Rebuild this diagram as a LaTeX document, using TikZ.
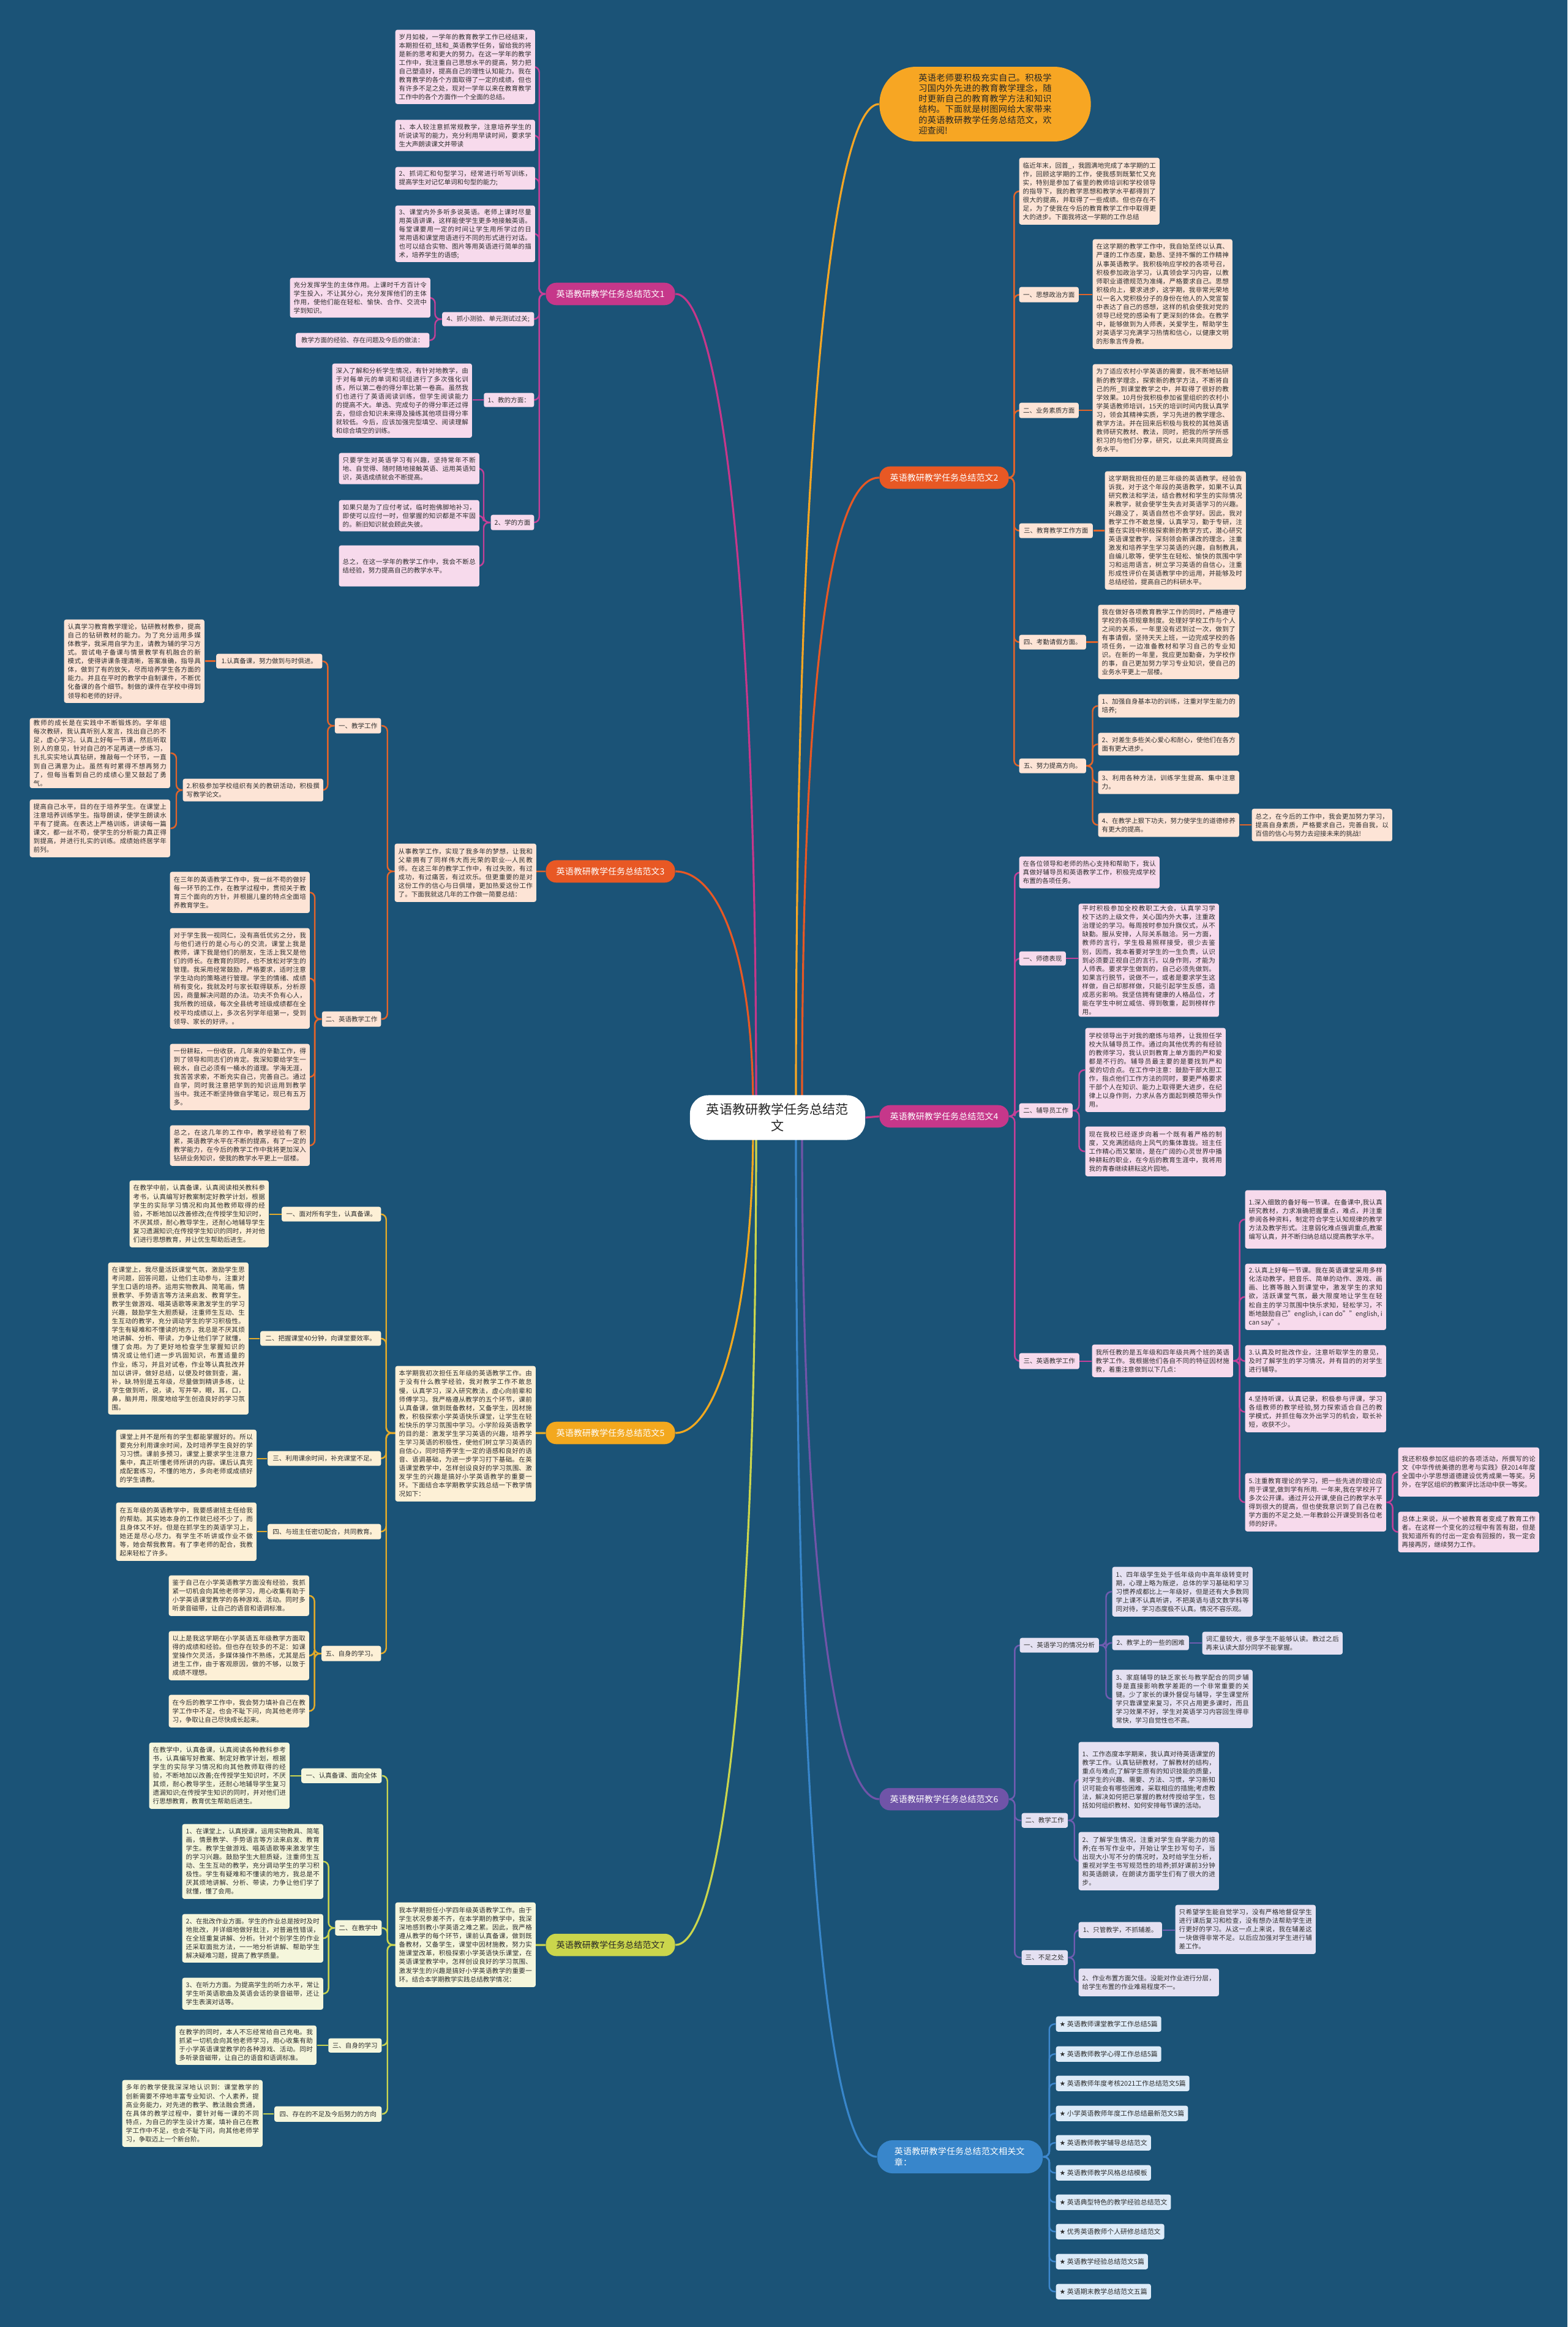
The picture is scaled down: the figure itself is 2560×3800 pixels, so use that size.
\documentclass[tikz,border=0pt]{standalone}
\usepackage{fontspec}
\setmainfont{Noto Sans CJK SC}
\newfontfamily\symfont{DejaVu Sans}
\XeTeXlinebreaklocale "zh"
\XeTeXlinebreakskip=0pt plus 0.6pt
\usetikzlibrary{backgrounds}

\definecolor{mapbg}{RGB}{27,83,119}
\definecolor{mappink}{RGB}{198,55,138}
\definecolor{maporange}{RGB}{232,88,36}
\definecolor{mapgold}{RGB}{243,168,30}
\definecolor{mappurple}{RGB}{112,84,168}
\definecolor{mapgreen}{RGB}{203,214,76}
\definecolor{mapblue}{RGB}{56,134,203}
\definecolor{introorange}{RGB}{247,166,35}
\definecolor{leafpink}{RGB}{247,218,236}
\definecolor{leafpeach}{RGB}{253,228,214}
\definecolor{leafcream}{RGB}{253,240,214}
\definecolor{leaflilac}{RGB}{229,225,242}
\definecolor{leafyellow}{RGB}{245,246,220}
\definecolor{leafblue}{RGB}{221,235,248}
\definecolor{linkpink}{RGB}{196,64,152}
\definecolor{linkorange}{RGB}{226,100,42}
\definecolor{linkgold}{RGB}{226,170,42}
\definecolor{linkpurple}{RGB}{112,92,176}
\definecolor{linkgreen}{RGB}{200,212,80}
\definecolor{linkblue}{RGB}{62,136,206}

\newcommand\rootfont{\fontsize{6pt}{7.6pt}\selectfont}
\newcommand\pillfont{\fontsize{4pt}{5pt}\selectfont}
\newcommand\introfont{\fontsize{4.05pt}{4.85pt}\selectfont}
\newcommand\leaffont{\fontsize{3pt}{4pt}\selectfont}
\newcommand\relfont{\fontsize{3.1pt}{4pt}\selectfont}

\tikzset{
  map root/.style={fill=white,rounded corners=0.3cm,minimum width=2.86cm,minimum height=0.73cm,align=center,font=\rootfont,text=black!85},
  map pill/.style={rounded corners=0.17cm,minimum width=2.11cm,minimum height=0.34cm,font=\pillfont,text=white},
  map leaf/.style={anchor=north west,rounded corners=0.9pt,inner xsep=0.06cm,inner ysep=0.03cm,align=justify,font=\leaffont,text=black!82},
  map tag/.style={anchor=north west,rounded corners=0.9pt,inner xsep=0.06cm,inner ysep=0.03cm,font=\leaffont,text=black!82},
  map link/.style={line width=0.7pt,rounded corners=2.5pt},
  map curve/.style={line width=0.9pt}
}

\begin{document}
\begin{tikzpicture}[x=0.01cm,y=-0.01cm]
  \useasboundingbox (0,0) rectangle (2560,3800);

  % centre and main branches
  \node[map root] (root) at (1270,1825) {英语教研教学任务总结范\\文};
  \node[fill=introorange,rounded corners=0.6cm,minimum height=1.21cm,inner xsep=0.64cm,text width=2.17cm,align=justify,font=\introfont,text=black!85] (intro) at (1609,170) {英语老师要积极充实自己。积极学习国内外先进的教育教学理念，随时更新自己的教育教学方法和知识结构。下面就是树图网给大家带来的英语教研教学任务总结范文，欢迎查阅!};
  \node[map pill,fill=mappink] (b1) at (997,480) {英语教研教学任务总结范文1};
  \node[map pill,fill=maporange] (b2) at (1542,780) {英语教研教学任务总结范文2};
  \node[map pill,fill=maporange] (b3) at (997,1423) {英语教研教学任务总结范文3};
  \node[map pill,fill=mappink] (b4) at (1542,1823) {英语教研教学任务总结范文4};
  \node[map pill,fill=mapgold] (b5) at (997,2340) {英语教研教学任务总结范文5};
  \node[map pill,fill=mappurple] (b6) at (1542,2938) {英语教研教学任务总结范文6};
  \node[map pill,fill=mapgreen,text=black!85] (b7) at (997,3176) {英语教研教学任务总结范文7};
  \node[fill=mapblue,rounded corners=0.25cm,minimum height=0.5cm,inner xsep=0.28cm,text width=2.14cm,align=left,font=\pillfont,text=white] (rel) at (1568,3522) {英语教研教学任务总结范文相关文章：};

  % branch 1
  \node[map leaf,fill=leafpink,text width=2.16cm,minimum height=1.21cm] (b1a) at (645,48) {岁月如梭，一学年的教育教学工作已经结束，本期担任初\_班和\_英语教学任务，留给我的将是新的思考和更大的努力。在这一学年的教学工作中，我注重自己思想水平的提高，努力把自己塑造好，提高自己的理性认知能力。我在教育教学的各个方面取得了一定的成绩，但也有许多不足之处，现对一学年以来在教育教学工作中的各个方面作一个全面的总结。};
  \node[map leaf,fill=leafpink,text width=2.16cm,minimum height=0.51cm] (b1b) at (645,195) {1、本人较注意抓常规教学，注意培养学生的听说读写的能力，充分利用早读时间，要求学生大声朗读课文并带读};
  \node[map leaf,fill=leafpink,text width=2.16cm,minimum height=0.37cm] (b1c) at (645,272) {2、抓词汇和句型学习，经常进行听写训练，提高学生对记忆单词和句型的能力;};
  \node[map leaf,fill=leafpink,text width=2.16cm,minimum height=0.92cm] (b1d) at (645,335) {3、课堂内外多听多说英语。老师上课时尽量用英语讲课，这样能使学生更多地接触英语。每堂课要用一定的时间让学生用所学过的日常用语和课堂用语进行不同的形式进行对话。也可以结合实物、图片等用英语进行简单的描术，培养学生的语感;};
  \node[map tag,fill=leafpink,anchor=north east,minimum width=1.50cm,minimum height=0.23cm] (b1e) at (873,509) {4、抓小测验、单元测试过关;};
  \node[map leaf,fill=leafpink,text width=2.17cm,minimum height=0.65cm] (b1e1) at (473,453) {充分发挥学生的主体作用。上课时千方百计令学生投入，不让其分心，充分发挥他们的主体作用，使他们能在轻松、愉快、合作、交流中学到知识。};
  \node[map tag,fill=leafpink,anchor=north east,minimum width=2.18cm,minimum height=0.24cm] (b1e2) at (702,543) {教学方面的经验、存在问题及今后的做法：};
  \node[map tag,fill=leafpink,anchor=north east,minimum width=0.82cm,minimum height=0.23cm] (b1f) at (873,641) {1、教的方面：};
  \node[map leaf,fill=leafpink,text width=2.16cm,minimum height=1.21cm] (b1f1) at (542,593) {深入了解和分析学生情况，有针对地教学，由于对每单元的单词和词组进行了多次强化训练，所以第二卷的得分率比第一卷高。虽然我们也进行了英语阅读训练，但学生阅读能力的提高不大。单选、完成句子的得分率还过得去，但综合知识未来得及操练其他项目得分率就较低。今后，应该加强完型填空、阅读理解和综合填空的训练。};
  \node[map tag,fill=leafpink,anchor=north east,minimum width=0.70cm,minimum height=0.25cm] (b1g) at (873,840) {2、学的方面};
  \node[map leaf,fill=leafpink,text width=2.17cm,minimum height=0.51cm] (b1g1) at (553,739) {只要学生对英语学习有兴趣，坚持常年不断地、自觉得、随时随地接触英语、运用英语知识，英语成绩就会不断提高。};
  \node[map leaf,fill=leafpink,text width=2.17cm,minimum height=0.51cm] (b1g2) at (553,816) {如果只是为了应付考试，临时抱佛脚地补习，即使可以应付一时，但掌握的知识都是不牢固的。新旧知识就会顾此失彼。};
  \node[map leaf,fill=leafpink,text width=2.17cm,minimum height=0.67cm] (b1g3) at (553,890) {总之，在这一学年的教学工作中，我会不断总结经验，努力提高自己的教学水平。};

  % branch 2
  \node[map leaf,fill=leafpeach,text width=2.17cm,minimum height=1.09cm] (b2a) at (1664,257) {临近年末，回首\_，我圆满地完成了本学期的工作，回顾这学期的工作，使我感到既繁忙又充实，特别是参加了省里的教师培训和学校领导的指导下，我的教学思想和教学水平都得到了很大的提高，并取得了一些成绩。但也存在不足，为了使我在今后的教育教学工作中取得更大的进步。下面我将这一学期的工作总结};
  \node[map tag,fill=leafpeach,minimum width=0.97cm,minimum height=0.25cm] (b2b) at (1664,468) {一、思想政治方面};
  \node[map leaf,fill=leafpeach,text width=2.16cm,minimum height=1.79cm] (b2b1) at (1784,390) {在这学期的教学工作中，我自始至终以认真、严谨的工作态度，勤恳、坚持不懈的工作精神从事英语教学。我积极响应学校的各项号召，积极参加政治学习，认真领会学习内容，以教师职业道德规范为准绳，严格要求自己。思想积极向上，要求进步，这学期，我非常光荣地以一名入党积极分子的身份在他人的入党宣誓中表达了自己的感想，这样的机会使我对党的领导已经党的感染有了更深刻的体会。在教学中，能够做到为人师表，关爱学生，帮助学生对英语学习充满学习热情和信心，以健康文明的形象言传身教。};
  \node[map tag,fill=leafpeach,minimum width=0.97cm,minimum height=0.25cm] (b2c) at (1664,657) {二、业务素质方面};
  \node[map leaf,fill=leafpeach,text width=2.16cm,minimum height=1.51cm] (b2c1) at (1784,594) {为了适应农村小学英语的需要，我不断地钻研新的教学理念，探索新的教学方法，不断将自己的所\_到课堂教学之中，并取得了很好的教学效果。10月份我积极参加省里组织的农村小学英语教师培训，15天的培训时间内我认真学习，领会其精神实质，学习先进的教学理念、教学方法。并在回来后积极与我校的其他英语教师研究教材、教法，同时，把我的所学所感积习的与他们分享，研究，以此来共同提高业务水平。};
  \node[map tag,fill=leafpeach,minimum width=1.20cm,minimum height=0.24cm] (b2d) at (1664,854) {三、教育教学工作方面};
  \node[map leaf,fill=leafpeach,text width=2.18cm,minimum height=1.93cm] (b2d1) at (1804,769) {这学期我担任的是三年级的英语教学。经验告诉我，对于这个年段的英语教学，如果不认真研究教法和学法，结合教材和学生的实际情况来教学，就会使学生失去对英语学习的兴趣。兴趣没了，英语自然也不会学好。因此，我对教学工作不敢怠慢，认真学习，勤于专研，注重在实践中积极探索新的教学方式，潜心研究英语课堂教学，深刻领会新课改的理念，注重激发和培养学生学习英语的兴趣，自制教具，自编儿歌等，使学生在轻松、愉快的氛围中学习和运用语言，树立学习英语的自信心，注重形成性评价在英语教学中的运用，并能够及时总结经验，提高自己的科研水平。};
  \node[map tag,fill=leafpeach,minimum width=1.09cm,minimum height=0.24cm] (b2e) at (1664,1036) {四、考勤请假方面。};
  \node[map leaf,fill=leafpeach,text width=2.18cm,minimum height=1.21cm] (b2e1) at (1793,987) {我在做好各项教育教学工作的同时，严格遵守学校的各项规章制度。处理好学校工作与个人之间的关系，一年里没有迟到过一次，做到了有事请假，坚持天天上班，一边完成学校的各项任务，一边准备教材和学习自己的专业知识。在新的一年里，我应更加勤奋，为学校作的事，自己更加努力学习专业知识，使自己的业务水平更上一层楼。};
  \node[map tag,fill=leafpeach,minimum width=1.09cm,minimum height=0.24cm] (b2f) at (1664,1238) {五、努力提高方向。};
  \node[map leaf,fill=leafpeach,text width=2.18cm,minimum height=0.38cm] (b2f1) at (1793,1133) {1、加强自身基本功的训练，注重对学生能力的培养;};
  \node[map leaf,fill=leafpeach,text width=2.18cm,minimum height=0.37cm] (b2f2) at (1793,1196) {2、对差生多些关心爱心和耐心，使他们在各方面有更大进步。};
  \node[map leaf,fill=leafpeach,text width=2.18cm,minimum height=0.38cm] (b2f3) at (1793,1258) {3、利用各种方法，训练学生提高、集中注意力。};
  \node[map leaf,fill=leafpeach,text width=2.18cm,minimum height=0.39cm] (b2f4) at (1793,1327) {4、在教学上狠下功夫，努力使学生的道德修养有更大的提高。};
  \node[map leaf,fill=leafpeach,text width=2.17cm,minimum height=0.53cm] (b2f4a) at (2044,1320) {总之，在今后的工作中，我会更加努力学习，提高自身素质，严格要求自己，完善自我，以百倍的信心与努力去迎接未来的挑战!};

  % branch 3
  \node[map leaf,fill=leafpeach,text width=2.19cm,minimum height=0.95cm] (b3a) at (644,1377) {从事教学工作，实现了我多年的梦想，让我和父辈拥有了同样伟大而光荣的职业-{}-{}-人民教师。在这三年的教学工作中，有过失败，有过成功，有过痛苦，有过欢乐。但更重要的是对这份工作的信心与日俱增，更加热爱这份工作了。下面我就这几年的工作做一简要总结：};
  \node[map tag,fill=leafpeach,anchor=north east,minimum width=0.75cm,minimum height=0.25cm] (b3b) at (623,1172) {一、教学工作};
  \node[map tag,fill=leafpeach,anchor=north east,minimum width=1.73cm,minimum height=0.24cm] (b3b1) at (527,1067) {1.认真备课，努力做到与时俱进。};
  \node[map leaf,fill=leafpeach,text width=2.17cm,minimum height=1.36cm] (b3b1a) at (104,1011) {认真学习教育教学理论，钻研教材教参，提高自己的钻研教材的能力。为了充分运用多媒体教学，我采用自学为主，请教为辅的学习方式。尝试电子备课与情景教学有机融合的新模式，使得讲课条理清晰，答案准确，指导具体，做到了有的放矢，尽而培养学生各方面的能力。并且在平时的教学中自制课件，不断优化备课的各个细节。制做的课件在学校中得到领导和老师的好评。};
  \node[map leaf,fill=leafpeach,text width=2.17cm,minimum height=0.37cm] (b3b2) at (298,1271) {2.积极参加学校组织有关的教研活动，积极撰写教学论文。};
  \node[map leaf,fill=leafpeach,text width=2.17cm,minimum height=1.09cm] (b3b2a) at (48,1172) {教师的成长是在实践中不断锻炼的。学年组每次教研，我认真听别人发言，找出自己的不足，虚心学习。认真上好每一节课，然后听取别人的意见，针对自己的不足再进一步练习，扎扎实实地认真钻研，推敲每一个环节，一直到自己满意为止。虽然有时累得不想再努力了，但每当看到自己的成绩心里又鼓起了勇气。};
  \node[map leaf,fill=leafpeach,text width=2.17cm,minimum height=0.94cm] (b3b2b) at (48,1305) {提高自己水平，目的在于培养学生。在课堂上注意培养训练学生。指导朗读，使学生朗读水平有了提高。在表达上严格训练，讲读每一篇课文，都一丝不苟，使学生的分析能力真正得到提高，并进行扎实的训练。成绩始终居学年前列。};
  \node[map tag,fill=leafpeach,anchor=north east,minimum width=0.96cm,minimum height=0.25cm] (b3c) at (623,1651) {二、英语教学工作};
  \node[map leaf,fill=leafpeach,text width=2.16cm,minimum height=0.67cm] (b3c1) at (277,1423) {在三年的英语教学工作中，我一丝不苟的做好每一环节的工作，在教学过程中，贯彻关于教育三个面向的方针，并根据儿童的特点全面培养教育学生。};
  \node[map leaf,fill=leafpeach,text width=2.16cm,minimum height=1.64cm] (b3c2) at (277,1515) {对于学生我一视同仁，没有高低优劣之分，我与他们进行的是心与心的交流，课堂上我是教师，课下我是他们的朋友，生活上我又是他们的师长。在教育的同时，也不放松对学生的管理。我采用经常鼓励，严格要求，适时注意学生动向的策略进行管理。学生的情绪、成绩稍有变化，我就及时与家长取得联系，分析原因，商量解决问题的办法。功夫不负有心人，我所教的班级，每次全县统考班级成绩都在全校平均成绩以上，多次名列学年组第一，受到领导、家长的好评。。};
  \node[map leaf,fill=leafpeach,text width=2.16cm,minimum height=1.08cm] (b3c3) at (277,1704) {一份耕耘，一份收获，几年来的辛勤工作，得到了领导和同志们的肯定。我深知要给学生一碗水，自己必须有一桶水的道理。学海无涯，我苦苦求索，不断充实自己，完善自己。通过自学，同时我注意把学到的知识运用到教学当中。我还不断坚持做自学笔记，现已有五万多。};
  \node[map leaf,fill=leafpeach,text width=2.16cm,minimum height=0.66cm] (b3c4) at (277,1837) {总之，在这几年的工作中，教学经验有了积累，英语教学水平在不断的提高，有了一定的教学能力，在今后的教学工作中我将更加深入钻研业务知识，使我的教学水平更上一层楼。};

  % branch 4
  \node[map leaf,fill=leafpink,text width=2.17cm,minimum height=0.52cm] (b4a) at (1664,1398) {在各位领导和老师的热心支持和帮助下，我认真做好辅导员和英语教学工作，积极完成学校布置的各项任务。};
  \node[map tag,fill=leafpink,minimum width=0.76cm,minimum height=0.23cm] (b4b) at (1664,1553) {一、师德表现};
  \node[map leaf,fill=leafpink,text width=2.17cm,minimum height=1.78cm] (b4b1) at (1761,1475) {平时积极参加全校教职工大会，认真学习学校下达的上级文件，关心国内外大事，注重政治理论的学习。每周按时参加升旗仪式，从不缺勤。服从安排，人际关系融洽。另一方面，教师的言行，学生极易照样接受，很少去鉴别，因而，我本着要对学生的一生负责，认识到必须要正视自己的言行。以身作则，才能为人师表。要求学生做到的，自己必须先做到。如果言行脱节，说做不一，或者是要求学生这样做，自己却那样做，只能引起学生反感，造成恶劣影响。我坚信拥有健康的人格品位，才能在学生中树立威信、得到敬重，起到榜样作用。};
  \node[map tag,fill=leafpink,minimum width=0.87cm,minimum height=0.24cm] (b4c) at (1664,1801) {二、辅导员工作};
  \node[map leaf,fill=leafpink,text width=2.17cm,minimum height=1.37cm] (b4c1) at (1772,1678) {学校领导出于对我的磨炼与培养，让我担任学校大队辅导员工作。通过向其他优秀的有经验的教师学习，我认识到教育上单方面的严和爱都是不行的。辅导员最主要的是要找到严和爱的切合点。在工作中注意：鼓励干部大胆工作，指点他们工作方法的同时，要更严格要求干部个人在知识、能力上取得更大进步，在纪律上以身作则，力求从各方面起到模范带头作用。};
  \node[map leaf,fill=leafpink,text width=2.17cm,minimum height=0.81cm] (b4c2) at (1772,1839) {现在我校已经逐步向着一个既有着严格的制度，又充满团结向上风气的集体靠拢。班主任工作精心而又繁琐，是在广阔的心灵世界中播种耕耘的职业，在今后的教育生涯中，我将用我的青春继续耕耘这片园地。};
  \node[map tag,fill=leafpink,minimum width=0.98cm,minimum height=0.26cm] (b4d) at (1664,2209) {三、英语教学工作};
  \node[map leaf,fill=leafpink,text width=2.18cm,minimum height=0.53cm] (b4d1) at (1783,2195) {我所任教的是五年级和四年级共两个班的英语教学工作。我根据他们各自不同的特征因材施教，着重注意做到以下几点：};
  \node[map leaf,fill=leafpink,text width=2.18cm,minimum height=0.95cm] (b4d1a) at (2033,1943) {1.深入细致的备好每一节课。在备课中,我认真研究教材，力求准确把握重点，难点，并注重参阅各种资料，制定符合学生认知规律的教学方法及教学形式。注意弱化难点强调重点,教案编写认真，并不断归纳总结以提高教学水平。};
  \node[map leaf,fill=leafpink,text width=2.18cm,minimum height=1.08cm] (b4d1b) at (2033,2063) {2.认真上好每一节课。我在英语课堂采用多样化活动教学，把音乐、简单的动作、游戏、画画、比赛等融入到课堂中，激发学生的求知欲，活跃课堂气氛，最大限度地让学生在轻松自主的学习氛围中快乐求知，轻松学习，不断地鼓励自己"english, i can do""english, i can say"。};
  \node[map leaf,fill=leafpink,text width=2.18cm,minimum height=0.52cm] (b4d1c) at (2033,2196) {3.认真及时批改作业，注意听取学生的意见，及时了解学生的学习情况，并有目的的对学生进行辅导。};
  \node[map leaf,fill=leafpink,text width=2.18cm,minimum height=0.66cm] (b4d1d) at (2033,2272) {4.坚持听课，认真记录，积极参与评课，学习各组教师的教学经验,努力探索适合自己的教学模式，并抓住每次外出学习的机会，取长补短，收获不少。};
  \node[map leaf,fill=leafpink,text width=2.18cm,minimum height=0.95cm] (b4d1e) at (2033,2405) {5.注重教育理论的学习，把一些先进的理论应用于课堂,做到学有所用. 一年来,我在学校开了多次公开课。通过开公开课,使自己的教学水平得到很大的提高，但也使我意识到了自己在教学方面的不足之处.一年教龄公开课受到各位老师的好评。};
  \node[map leaf,fill=leafpink,text width=2.18cm,minimum height=0.80cm] (b4d1e1) at (2283,2363) {我还积极参加区组织的各项活动，所撰写的论文《中华传统美德的思考与实践》获2014年度全国中小学思想道德建设优秀成果一等奖。另外，在学区组织的教案评比活动中获一等奖。};
  \node[map leaf,fill=leafpink,text width=2.18cm,minimum height=0.66cm] (b4d1e2) at (2283,2468) {总体上来说，从一个被教育者变成了教育工作者。在这样一个变化的过程中有苦有甜，但是我知道所有的付出一定会有回报的，我一定会再接再厉，继续努力工作。};

  % branch 5
  \node[map leaf,fill=leafcream,text width=2.17cm,minimum height=2.21cm] (b5a) at (645,2230) {本学期我初次担任五年级的英语教学工作。由于没有什么教学经验，我对教学工作不敢怠慢，认真学习，深入研究教法，虚心向前辈和师傅学习。我严格遵从教学的五个环节，课前认真备课，做到既备教材，又备学生，因材施教，积极探索小学英语快乐课堂，让学生在轻松快乐的学习氛围中学习。小学阶段英语教学的目的是：激发学生学习英语的兴趣，培养学生学习英语的积极性，使他们树立学习英语的自信心，同时培养学生一定的语感和良好的语音、语调基础，为进一步学习打下基础。在英语课堂教学中，怎样创设良好的学习氛围、激发学生的兴趣是搞好小学英语教学的重要一环。下面结合本学期教学实践总结一下教学情况如下：};
  \node[map tag,fill=leafcream,anchor=north east,minimum width=1.62cm,minimum height=0.24cm] (b5b) at (623,1970) {一、面对所有学生，认真备课。};
  \node[map leaf,fill=leafcream,text width=2.15cm,minimum height=1.09cm] (b5b1) at (211,1927) {在教学中前，认真备课，认真阅读相关教科参考书，认真编写好教案制定好教学计划，根据学生的实际学习情况和向其他教师取得的经验，不断地加以改善修改;在传授学生知识时，不厌其烦，耐心教导学生，还耐心地辅导学生复习遗漏知识;在传授学生知识的同时，并对他们进行思想教育，并让优生帮助后进生。};
  \node[map tag,fill=leafcream,anchor=north east,minimum width=1.97cm,minimum height=0.24cm] (b5c) at (623,2173) {二、把握课堂40分钟，向课堂要效率。};
  \node[map leaf,fill=leafcream,text width=2.17cm,minimum height=2.48cm] (b5c1) at (176,2061) {在课堂上，我尽量活跃课堂气氛，激励学生思考问题，回答问题，让他们主动参与，注重对学生口语的培养。运用实物教具、简笔画，情景教学、手势语言等方法来启发、教育学生。教学生做游戏、唱英语歌等来激发学生的学习兴趣，鼓励学生大胆质疑，注重师生互动、生生互动的教学，充分调动学生的学习积极性。学生有疑难和不懂读的地方，我总是不厌其烦地讲解、分析、带读，力争让他们学了就懂，懂了会用。为了更好地检查学生掌握知识的情况或让他们进一步巩固知识，布置适量的作业，练习，并且对试卷，作业等认真批改并加以讲评，做好总结，以便及时做到查，漏，补，缺.特别是五年级，尽量做到精讲多练，让学生做到听，说，读，写并举，眼，耳，口，鼻，脑并用，限度地给学生创造良好的学习氛围。};
  \node[map tag,fill=leafcream,anchor=north east,minimum width=1.85cm,minimum height=0.24cm] (b5d) at (623,2369) {三、利用课余时间，补充课堂不足。};
  \node[map leaf,fill=leafcream,text width=2.17cm,minimum height=0.94cm] (b5d1) at (189,2334) {课堂上并不是所有的学生都能掌握好的。所以要充分利用课余时间，及时培养学生良好的学习习惯。课前多预习，课堂上要求学生注意力集中，真正听懂老师所讲的内容。课后认真完成配套练习，不懂的地方，多向老师或成绩好的学生请教。};
  \node[map tag,fill=leafcream,anchor=north east,minimum width=1.85cm,minimum height=0.25cm] (b5e) at (623,2488) {四、与班主任密切配合，共同教育。};
  \node[map leaf,fill=leafcream,text width=2.17cm,minimum height=0.95cm] (b5e1) at (189,2453) {在五年级的英语教学中，我要感谢班主任给我的帮助。其实她本身的工作就已经不少了，而且身体又不好。但是在抓学生的英语学习上，她还是尽心尽力。有学生不听讲或作业不做等，她会帮我教育。有了李老师的配合，我教起来轻松了许多。};
  \node[map tag,fill=leafcream,anchor=north east,minimum width=0.97cm,minimum height=0.25cm] (b5f) at (623,2687) {五、自身的学习。};
  \node[map leaf,fill=leafcream,text width=2.17cm,minimum height=0.66cm] (b5f1) at (275,2572) {鉴于自己在小学英语教学方面没有经验，我抓紧一切机会向其他老师学习，用心收集有助于小学英语课堂教学的各种游戏、活动。同时多听录音磁带，让自己的语音和语调标准。};
  \node[map leaf,fill=leafcream,text width=2.17cm,minimum height=0.80cm] (b5f2) at (275,2663) {以上是我这学期在小学英语五年级教学方面取得的成绩和经验。但也存在较多的不足：如课堂操作欠灵活，多媒体操作不熟练，尤其是后进生工作，由于客观原因，做的不够，以致于成绩不理想。};
  \node[map leaf,fill=leafcream,text width=2.17cm,minimum height=0.53cm] (b5f3) at (275,2767) {在今后的教学工作中，我会努力填补自己在教学工作中不足，也会不耻下问，向其他老师学习，争取让自己尽快成长起来。};

  % branch 6
  \node[map tag,fill=leaflilac,minimum width=1.29cm,minimum height=0.24cm] (b6a) at (1665,2674) {一、英语学习的情况分析};
  \node[map leaf,fill=leaflilac,text width=2.17cm,minimum height=0.81cm] (b6a1) at (1816,2558) {1、四年级学生处于低年级向中高年级转变时期，心理上略为叛逆，总体的学习基础和学习习惯养成都比上一年级好，但是还有大多数同学上课不认真听讲，不把英语与语文数学科等同对待，学习态度极不认真。情况不容乐观。};
  \node[map tag,fill=leaflilac,minimum width=1.25cm,minimum height=0.24cm] (b6a2) at (1816,2670) {2、教学上的一些的困难};
  \node[map leaf,fill=leaflilac,text width=2.17cm,minimum height=0.37cm] (b6a2a) at (1963,2664) {词汇量较大，很多学生不能够认读。教过之后再来认读大部分同学不能掌握。};
  \node[map leaf,fill=leaflilac,text width=2.17cm,minimum height=0.95cm] (b6a3) at (1816,2726) {3、家庭辅导的缺乏家长与教学配合的同步辅导是直接影响教学差距的一个非常重要的关键。少了家长的课外督促与辅导，学生课堂所学只靠课堂来复习，不只占用更多课时，而且学习效果不好，学生对英语学习内容回生得非常快，学习自觉性也不高。};
  \node[map tag,fill=leaflilac,minimum width=0.72cm,minimum height=0.24cm] (b6b) at (1668,2960) {二、教学工作};
  \node[map leaf,fill=leaflilac,text width=2.17cm,minimum height=1.23cm] (b6b1) at (1761,2844) {1、工作态度本学期来，我认真对待英语课堂的教学工作。认真钻研教材，了解教材的结构，重点与难点;了解学生原有的知识技能的质量，对学生的兴趣、需要、方法、习惯，学习新知识可能会有哪些困难，采取相应的措施;考虑教法，解决如何把已掌握的教材传授给学生，包括如何组织教材、如何安排每节课的活动。};
  \node[map leaf,fill=leaflilac,text width=2.17cm,minimum height=0.95cm] (b6b2) at (1761,2991) {2、了解学生情况，注重对学生自学能力的培养;在书写作业中，开始让学生抄写句子，当出现大小写不分的情况时，及时给学生分析，重视对学生书写规范性的培养;抓好课前3分钟和英语朗读，在朗读方面学生们有了很大的进步。};
  \node[map tag,fill=leaflilac,minimum width=0.72cm,minimum height=0.24cm] (b6c) at (1668,3184) {三、不足之处};
  \node[map tag,fill=leaflilac,minimum width=1.36cm,minimum height=0.26cm] (b6c1) at (1761,3138) {1、只管教学，不抓辅差。};
  \node[map leaf,fill=leaflilac,text width=2.17cm,minimum height=0.80cm] (b6c1a) at (1919,3110) {只希望学生能自觉学习，没有严格地督促学生进行课后复习和检查，没有想办法帮助学生进行更好的学习。从这一点上来说，我在辅差这一块做得非常不足。以后应加强对学生进行辅差工作。};
  \node[map leaf,fill=leaflilac,text width=2.17cm,minimum height=0.45cm] (b6c2) at (1761,3214) {2、作业布置方面欠佳。没能对作业进行分层，给学生布置的作业难易程度不一。};

  % branch 7
  \node[map leaf,fill=leafyellow,text width=2.17cm,minimum height=1.38cm] (b7a) at (645,3106) {我本学期担任小学四年级英语教学工作。由于学生状况参差不齐，在本学期的教学中，我深深地感到教小学英语之难之累。因此，我严格遵从教学的每个环节，课前认真备课，做到既备教材，又备学生，课堂中因材施教，努力实施课堂改革，积极探索小学英语快乐课堂，在英语课堂教学中，怎样创设良好的学习氛围、激发学生的兴趣是搞好小学英语教学的重要一环。结合本学期教学实践总结教学情况：};
  \node[map tag,fill=leafyellow,anchor=north east,minimum width=1.31cm,minimum height=0.24cm] (b7b) at (624,2887) {一、认真备课、面向全体};
  \node[map leaf,fill=leafyellow,text width=2.17cm,minimum height=1.08cm] (b7b1) at (243,2845) {在教学中，认真备课，认真阅读各种教科参考书，认真编写好教案、制定好教学计划，根据学生的实际学习情况和向其他教师取得的经验，不断地加以改善;在传授学生知识时，不厌其烦，耐心教导学生，还耐心地辅导学生复习遗漏知识;在传授学生知识的同时，并对他们进行思想教育，教育优生帮助后进生。};
  \node[map tag,fill=leafyellow,anchor=north east,minimum width=0.76cm,minimum height=0.25cm] (b7c) at (624,3135) {二、在教学中};
  \node[map leaf,fill=leafyellow,text width=2.18cm,minimum height=1.22cm] (b7c1) at (297,2978) {1、在课堂上，认真授课，运用实物教具、简笔画，情景教学、手势语言等方法来启发、教育学生。教学生做游戏、唱英语歌等来激发学生的学习兴趣。鼓励学生大胆质疑，注重师生互动、生生互动的教学，充分调动学生的学习积极性。学生有疑难和不懂读的地方，我总是不厌其烦地讲解、分析、带读，力争让他们学了就懂，懂了会用。};
  \node[map leaf,fill=leafyellow,text width=2.18cm,minimum height=0.79cm] (b7c2) at (297,3125) {2、在批改作业方面。学生的作业总是按时及时地批改，并详细地做好批注，对普遍性错误，在全班重复讲解、分析。针对个别学生的作业还采取面批方法，一一地分析讲解、帮助学生解决疑难习题，提高了教学质量。};
  \node[map leaf,fill=leafyellow,text width=2.18cm,minimum height=0.52cm] (b7c3) at (297,3229) {3、在听力方面。为提高学生的听力水平，常让学生听英语歌曲及英语会话的录音磁带，还让学生表演对话等。};
  \node[map tag,fill=leafyellow,anchor=north east,minimum width=0.87cm,minimum height=0.23cm] (b7d) at (624,3328) {三、自身的学习};
  \node[map leaf,fill=leafyellow,text width=2.18cm,minimum height=0.64cm] (b7d1) at (286,3307) {在教学的同时，本人不忘经常给自己充电。我抓紧一切机会向其他老师学习，用心收集有助于小学英语课堂教学的各种游戏、活动。同时多听录音磁带，让自己的语音和语调标准。};
  \node[map tag,fill=leafyellow,anchor=north east,minimum width=1.75cm,minimum height=0.25cm] (b7e) at (624,3439) {四、存在的不足及今后努力的方向};
  \node[map leaf,fill=leafyellow,text width=2.17cm,minimum height=1.09cm] (b7e1) at (199,3396) {多年的教学使我深深地认识到：课堂教学的创新需要不停地丰富专业知识、个人素养，提高业务能力，对先进的教学、教法融会贯通，在具体的教学过程中，要针对每一课的不同特点，为自己的学生设计方案，填补自己在教学工作中不足，也会不耻下问，向其他老师学习，争取迈上一个新台阶。};

  % related articles
  \node[map tag,fill=leafblue,font=\relfont,minimum height=0.25cm] (r1) at (1724,3292) {{\symfont ★} 英语教师课堂教学工作总结5篇};
  \node[map tag,fill=leafblue,font=\relfont,minimum height=0.25cm] (r2) at (1724,3341) {{\symfont ★} 英语教师教学心得工作总结5篇};
  \node[map tag,fill=leafblue,font=\relfont,minimum height=0.25cm] (r3) at (1724,3389) {{\symfont ★} 英语教师年度考核2021工作总结范文5篇};
  \node[map tag,fill=leafblue,font=\relfont,minimum height=0.25cm] (r4) at (1724,3438) {{\symfont ★} 小学英语教师年度工作总结最新范文5篇};
  \node[map tag,fill=leafblue,font=\relfont,minimum height=0.25cm] (r5) at (1724,3486) {{\symfont ★} 英语教师教学辅导总结范文};
  \node[map tag,fill=leafblue,font=\relfont,minimum height=0.25cm] (r6) at (1724,3535) {{\symfont ★} 英语教师教学风格总结模板};
  \node[map tag,fill=leafblue,font=\relfont,minimum height=0.25cm] (r7) at (1724,3583) {{\symfont ★} 英语典型特色的教学经验总结范文};
  \node[map tag,fill=leafblue,font=\relfont,minimum height=0.25cm] (r8) at (1724,3631) {{\symfont ★} 优秀英语教师个人研修总结范文};
  \node[map tag,fill=leafblue,font=\relfont,minimum height=0.25cm] (r9) at (1724,3680) {{\symfont ★} 英语教学经验总结范文5篇};
  \node[map tag,fill=leafblue,font=\relfont,minimum height=0.25cm] (r10) at (1724,3729) {{\symfont ★} 英语期末教学总结范文五篇};

  \begin{scope}[on background layer]
    \fill[mapbg] (0,0) rectangle (2560,3800);
    % centre to branches
    \draw[map curve,draw=introorange] (1300,1800) .. controls (1300,600) and (1370,170) .. (intro.west);
    \draw[map curve,draw=maporange] (1310,1800) .. controls (1310,1000) and (1370,780) .. (b2.west);
    \draw[map curve,draw=mappink] (root.east) -- (b4.west);
    \draw[map curve,draw=mappurple] (1310,1850) .. controls (1310,2600) and (1370,2938) .. (b6.west);
    \draw[map curve,draw=mapblue] (1300,1850) .. controls (1300,3200) and (1370,3522) .. (rel.west);
    \draw[map curve,draw=mappink] (1235,1800) .. controls (1235,900) and (1170,480) .. (b1.east);
    \draw[map curve,draw=maporange] (1230,1810) .. controls (1230,1550) and (1170,1423) .. (b3.east);
    \draw[map curve,draw=mapgold] (1230,1840) .. controls (1230,2150) and (1170,2340) .. (b5.east);
    \draw[map curve,draw=mapgreen] (1235,1850) .. controls (1235,2800) and (1170,3176) .. (b7.east);
    % branch 1
    \draw[map link,draw=linkpink] (b1.west) -- ++(-10,0) |- (b1a.east);
    \draw[map link,draw=linkpink] (b1.west) -- ++(-10,0) |- (b1b.east);
    \draw[map link,draw=linkpink] (b1.west) -- ++(-10,0) |- (b1c.east);
    \draw[map link,draw=linkpink] (b1.west) -- ++(-10,0) |- (b1d.east);
    \draw[map link,draw=linkpink] (b1.west) -- ++(-10,0) |- (b1e.east);
    \draw[map link,draw=linkpink] (b1.west) -- ++(-10,0) |- (b1f.east);
    \draw[map link,draw=linkpink] (b1.west) -- ++(-10,0) |- (b1g.east);
    \draw[map link,draw=linkpink] (b1e.west) -- ++(-11,0) |- (b1e1.east);
    \draw[map link,draw=linkpink] (b1e.west) -- ++(-11,0) |- (b1e2.east);
    \draw[map link,draw=linkpink] (b1f.west) -- (b1f1.east |- b1f.west);
    \draw[map link,draw=linkpink] (b1g.west) -- ++(-11,0) |- (b1g1.east);
    \draw[map link,draw=linkpink] (b1g.west) -- ++(-11,0) |- (b1g2.east);
    \draw[map link,draw=linkpink] (b1g.west) -- ++(-11,0) |- (b1g3.east);
    % branch 2
    \draw[map link,draw=linkorange] (b2.east) -- ++(8,0) |- (b2a.west);
    \draw[map link,draw=linkorange] (b2.east) -- ++(8,0) |- (b2b.west);
    \draw[map link,draw=linkorange] (b2.east) -- ++(8,0) |- (b2c.west);
    \draw[map link,draw=linkorange] (b2.east) -- ++(8,0) |- (b2d.west);
    \draw[map link,draw=linkorange] (b2.east) -- ++(8,0) |- (b2e.west);
    \draw[map link,draw=linkorange] (b2.east) -- ++(8,0) |- (b2f.west);
    \draw[map link,draw=linkorange] (b2b.east) -- (b2b1.west |- b2b.east);
    \draw[map link,draw=linkorange] (b2c.east) -- (b2c1.west |- b2c.east);
    \draw[map link,draw=linkorange] (b2d.east) -- (b2d1.west |- b2d.east);
    \draw[map link,draw=linkorange] (b2e.east) -- (b2e1.west |- b2e.east);
    \draw[map link,draw=linkorange] (b2f.east) -- ++(10,0) |- (b2f1.west);
    \draw[map link,draw=linkorange] (b2f.east) -- ++(10,0) |- (b2f2.west);
    \draw[map link,draw=linkorange] (b2f.east) -- ++(10,0) |- (b2f3.west);
    \draw[map link,draw=linkorange] (b2f.east) -- ++(10,0) |- (b2f4.west);
    \draw[map link,draw=linkorange] (b2f4.east) -- (b2f4a.west |- b2f4.east);
    % branch 3
    \draw[map link,draw=linkorange] (b3.west) -- ++(-258,0) |- (b3b.east);
    \draw[map link,draw=linkorange] (b3.west) -- ++(-258,0) |- (b3c.east);
    \draw[map link,draw=linkorange] (b3b.west) -- ++(-11,0) |- (b3b1.east);
    \draw[map link,draw=linkorange] (b3b.west) -- ++(-11,0) |- (b3b2.east);
    \draw[map link,draw=linkorange] (b3b1.west) -- (b3b1a.east |- b3b1.west);
    \draw[map link,draw=linkorange] (b3b2.west) -- ++(-10,0) |- (b3b2a.east);
    \draw[map link,draw=linkorange] (b3b2.west) -- ++(-10,0) |- (b3b2b.east);
    \draw[map link,draw=linkorange] (b3c.west) -- ++(-11,0) |- (b3c1.east);
    \draw[map link,draw=linkorange] (b3c.west) -- ++(-11,0) |- (b3c2.east);
    \draw[map link,draw=linkorange] (b3c.west) -- ++(-11,0) |- (b3c3.east);
    \draw[map link,draw=linkorange] (b3c.west) -- ++(-11,0) |- (b3c4.east);
    % branch 4
    \draw[map link,draw=linkpink] (b4.east) -- ++(9,0) |- (b4a.west);
    \draw[map link,draw=linkpink] (b4.east) -- ++(9,0) |- (b4b.west);
    \draw[map link,draw=linkpink] (b4.east) -- ++(9,0) |- (b4c.west);
    \draw[map link,draw=linkpink] (b4.east) -- ++(9,0) |- (b4d.west);
    \draw[map link,draw=linkpink] (b4b.east) -- (b4b1.west |- b4b.east);
    \draw[map link,draw=linkpink] (b4c.east) -- ++(10,0) |- (b4c1.west);
    \draw[map link,draw=linkpink] (b4c.east) -- ++(10,0) |- (b4c2.west);
    \draw[map link,draw=linkpink] (b4d.east) -- (b4d1.west |- b4d.east);
    \draw[map link,draw=linkpink] (b4d1.east) -- ++(10,0) |- (b4d1a.west);
    \draw[map link,draw=linkpink] (b4d1.east) -- ++(10,0) |- (b4d1b.west);
    \draw[map link,draw=linkpink] (b4d1.east) -- ++(10,0) |- (b4d1c.west);
    \draw[map link,draw=linkpink] (b4d1.east) -- ++(10,0) |- (b4d1d.west);
    \draw[map link,draw=linkpink] (b4d1.east) -- ++(10,0) |- (b4d1e.west);
    \draw[map link,draw=linkpink] (b4d1e.east) -- ++(10,0) |- (b4d1e1.west);
    \draw[map link,draw=linkpink] (b4d1e.east) -- ++(10,0) |- (b4d1e2.west);
    % branch 5
    \draw[map link,draw=linkgold] (b5.west) -- ++(-260,0) |- (b5b.east);
    \draw[map link,draw=linkgold] (b5.west) -- ++(-260,0) |- (b5c.east);
    \draw[map link,draw=linkgold] (b5.west) -- ++(-260,0) |- (b5d.east);
    \draw[map link,draw=linkgold] (b5.west) -- ++(-260,0) |- (b5e.east);
    \draw[map link,draw=linkgold] (b5.west) -- ++(-260,0) |- (b5f.east);
    \draw[map link,draw=linkgold] (b5b.west) -- (b5b1.east |- b5b.west);
    \draw[map link,draw=linkgold] (b5c.west) -- (b5c1.east |- b5c.west);
    \draw[map link,draw=linkgold] (b5d.west) -- (b5d1.east |- b5d.west);
    \draw[map link,draw=linkgold] (b5e.west) -- (b5e1.east |- b5e.west);
    \draw[map link,draw=linkgold] (b5f.west) -- ++(-11,0) |- (b5f1.east);
    \draw[map link,draw=linkgold] (b5f.west) -- ++(-11,0) |- (b5f2.east);
    \draw[map link,draw=linkgold] (b5f.west) -- ++(-11,0) |- (b5f3.east);
    % branch 6
    \draw[map link,draw=linkpurple] (b6.east) -- ++(9,0) |- (b6a.west);
    \draw[map link,draw=linkpurple] (b6.east) -- ++(9,0) |- (b6b.west);
    \draw[map link,draw=linkpurple] (b6.east) -- ++(9,0) |- (b6c.west);
    \draw[map link,draw=linkpurple] (b6a.east) -- ++(11,0) |- (b6a1.west);
    \draw[map link,draw=linkpurple] (b6a.east) -- ++(11,0) |- (b6a2.west);
    \draw[map link,draw=linkpurple] (b6a.east) -- ++(11,0) |- (b6a3.west);
    \draw[map link,draw=linkpurple] (b6a2.east) -- (b6a2a.west |- b6a2.east);
    \draw[map link,draw=linkpurple] (b6b.east) -- ++(10,0) |- (b6b1.west);
    \draw[map link,draw=linkpurple] (b6b.east) -- ++(10,0) |- (b6b2.west);
    \draw[map link,draw=linkpurple] (b6c.east) -- ++(10,0) |- (b6c1.west);
    \draw[map link,draw=linkpurple] (b6c.east) -- ++(10,0) |- (b6c2.west);
    \draw[map link,draw=linkpurple] (b6c1.east) -- (b6c1a.west |- b6c1.east);
    % branch 7
    \draw[map link,draw=linkgreen] (b7.west) -- ++(-258,0) |- (b7b.east);
    \draw[map link,draw=linkgreen] (b7.west) -- ++(-258,0) |- (b7c.east);
    \draw[map link,draw=linkgreen] (b7.west) -- ++(-258,0) |- (b7d.east);
    \draw[map link,draw=linkgreen] (b7.west) -- ++(-258,0) |- (b7e.east);
    \draw[map link,draw=linkgreen] (b7b.west) -- (b7b1.east |- b7b.west);
    \draw[map link,draw=linkgreen] (b7c.west) -- ++(-10,0) |- (b7c1.east);
    \draw[map link,draw=linkgreen] (b7c.west) -- ++(-10,0) |- (b7c2.east);
    \draw[map link,draw=linkgreen] (b7c.west) -- ++(-10,0) |- (b7c3.east);
    \draw[map link,draw=linkgreen] (b7d.west) -- (b7d1.east |- b7d.west);
    \draw[map link,draw=linkgreen] (b7e.west) -- (b7e1.east |- b7e.west);
    % related articles
    \draw[map link,draw=linkblue] (rel.east) -- ++(10,0) |- (r1.west);
    \draw[map link,draw=linkblue] (rel.east) -- ++(10,0) |- (r2.west);
    \draw[map link,draw=linkblue] (rel.east) -- ++(10,0) |- (r3.west);
    \draw[map link,draw=linkblue] (rel.east) -- ++(10,0) |- (r4.west);
    \draw[map link,draw=linkblue] (rel.east) -- ++(10,0) |- (r5.west);
    \draw[map link,draw=linkblue] (rel.east) -- ++(10,0) |- (r6.west);
    \draw[map link,draw=linkblue] (rel.east) -- ++(10,0) |- (r7.west);
    \draw[map link,draw=linkblue] (rel.east) -- ++(10,0) |- (r8.west);
    \draw[map link,draw=linkblue] (rel.east) -- ++(10,0) |- (r9.west);
    \draw[map link,draw=linkblue] (rel.east) -- ++(10,0) |- (r10.west);
  \end{scope}
\end{tikzpicture}
\end{document}
